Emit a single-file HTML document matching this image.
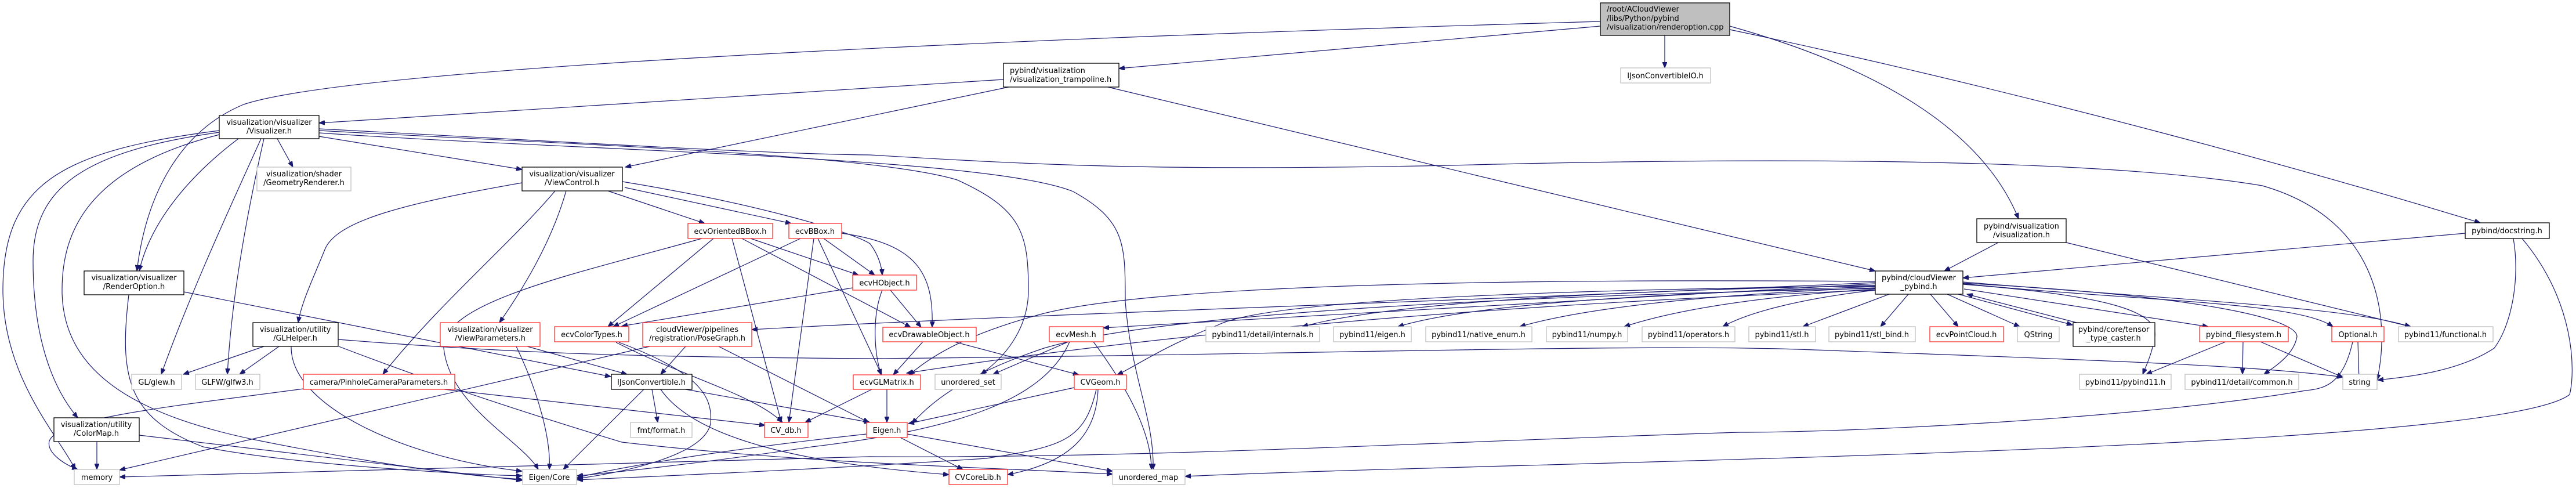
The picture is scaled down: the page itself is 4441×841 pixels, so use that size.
<!DOCTYPE html>
<html><head><meta charset="utf-8"><style>
html,body{margin:0;padding:0;background:#fff}
svg{display:block}
text{font-family:"DejaVu Sans","Liberation Sans",sans-serif;font-size:13px;fill:#000}
.e{fill:none;stroke:#191970;stroke-width:1.2;marker-end:url(#a)}
.g{fill:#fff;stroke:#bfbfbf;stroke-width:1.3}
.k{fill:#fff;stroke:#000;stroke-width:1.3}
.r{fill:#fff;stroke:#ff3030;stroke-width:1.3}
.f{fill:#bfbfbf;stroke:#000;stroke-width:1.3}
</style></head><body>
<svg width="4441" height="841" viewBox="0 0 4441 841" xmlns="http://www.w3.org/2000/svg">
<defs><marker id="a" markerWidth="11" markerHeight="8" refX="10" refY="4" orient="auto" markerUnits="userSpaceOnUse"><path d="M0,0 L10,4 L0,8 z" fill="#191970" stroke="#191970"/></marker></defs>

<!-- edges -->
<path class="e" d="M2982,45 C3250,120 3420,230 3480,377"/>
<path class="e" d="M2982,51 C3500,160 4000,300 4276,384"/>
<path class="e" d="M2870,61 L2870,117"/>
<path class="e" d="M2759,45 L1929,118"/>
<path class="e" d="M2759,37 C1600,70 600,120 420,180 C300,230 250,350 236,467"/>
<path class="e" d="M1730,137 L550,212"/>
<path class="e" d="M1739,150 L1078,288"/>
<path class="e" d="M1910,150 L3233,467"/>
<path class="e" d="M3445,418 L3352,467"/>
<path class="e" d="M3562,418 L4156,563"/>
<path class="e" d="M4250,402 L3384,479"/>
<path class="e" d="M4333,411 C4345,480 4330,560 4300,600 C4240,640 4150,650 4099,655"/>
<path class="e" d="M4348,411 C4440,520 4440,640 4430,680 C4300,780 2600,795 2043,821"/>

<path class="e" d="M550,222 C900,240 1300,265 1500,267 C1800,285 2000,295 2500,285 C3000,272 3600,270 3900,320 C4110,380 4120,560 4098,655"/>
<path class="e" d="M550,225 C1000,250 1500,265 1650,310 C1760,360 1773,400 1773,500 C1773,560 1740,610 1691,645"/>
<path class="e" d="M550,229 C1000,260 1700,270 1850,330 C1940,380 1940,420 1940,520 C1950,650 1990,720 1988,809"/>
<path class="e" d="M550,235 L900,292"/>
<path class="e" d="M478,239 L505,288"/>
<path class="e" d="M378,225 C100,260 5,320 5,500 C5,650 100,750 130,809"/>
<path class="e" d="M378,228 C150,260 57,320 57,450 C57,600 100,680 134,720"/>
<path class="e" d="M378,232 C150,290 107,400 107,500 C107,650 250,720 450,760 C650,800 800,820 900,826"/>
<path class="e" d="M411,239 C330,300 260,380 240,467"/>
<path class="e" d="M450,239 C400,350 330,500 278,645"/>
<path class="e" d="M455,239 C430,350 400,500 392,645"/>

<path class="e" d="M900,315 C700,350 580,380 560,430 C540,480 520,520 514,556"/>
<path class="e" d="M957,329 C880,420 760,520 660,645"/>
<path class="e" d="M976,329 C950,420 900,500 861,556"/>
<path class="e" d="M1048,329 L1215,385"/>
<path class="e" d="M1077,323 L1364,385"/>
<path class="e" d="M1073,313 C1300,350 1470,400 1500,420 C1515,440 1520,460 1521,474"/>

<path class="e" d="M1210,411 C1000,470 760,520 765,600 C775,700 900,760 928,809"/>
<path class="e" d="M1230,411 L1048,563"/>
<path class="e" d="M1262,411 L1347,728"/>
<path class="e" d="M1294,411 L1480,474"/>
<path class="e" d="M1279,411 L1570,564"/>
<path class="e" d="M1380,411 L1057,563"/>
<path class="e" d="M1403,411 L1360,728"/>
<path class="e" d="M1410,411 L1520,646"/>
<path class="e" d="M1420,411 L1508,474"/>
<path class="e" d="M1451,402 C1580,420 1610,470 1607,564"/>
<path class="e" d="M1521,500 C1505,540 1505,600 1519,646"/>
<path class="e" d="M1535,500 L1588,564"/>
<path class="e" d="M1470,496 L1072,562"/>
<path class="e" d="M1591,589 L1540,646"/>
<path class="e" d="M1645,589 L1860,646"/>
<path class="e" d="M1529,671 L1529,728"/>
<path class="e" d="M1503,671 L1388,728"/>
<path class="e" d="M1062,590 C1180,650 1300,680 1349,728"/>
<path class="e" d="M1067,590 C1200,640 1230,680 1225,730 C1215,780 1100,810 995,825"/>
<path class="e" d="M1120,597 L206,810"/>
<path class="e" d="M1182,597 L1139,645"/>
<path class="e" d="M1239,597 L1498,728"/>
<path class="e" d="M3233,487 C2500,520 1800,540 1296,568"/>
<path class="e" d="M1842,589 L1712,645"/>
<path class="e" d="M1844,589 C1800,690 1650,740 1400,770 C1200,800 1050,815 995,820"/>
<path class="e" d="M1885,589 C1960,690 1985,760 1985,809"/>
<path class="e" d="M1494,748 C1200,780 1050,810 995,823"/>
<path class="e" d="M1552,754 L1660,809"/>
<path class="e" d="M1564,748 L1918,812"/>
<path class="e" d="M1852,668 L1566,730"/>
<path class="e" d="M1893,671 C1890,760 1830,800 1737,818"/>
<path class="e" d="M1890,671 C1870,760 1830,770 1700,790 C1400,810 1100,822 995,827"/>
<path class="e" d="M3233,493 C2600,500 2180,520 2100,560 C2000,600 1960,630 1926,646"/>
<path class="e" d="M3233,485 C2600,480 2000,490 1800,540 C1650,580 1600,620 1567,646"/>
<path class="e" d="M3233,497 C2600,510 2000,540 1800,600 C1650,650 1600,700 1572,730"/>
<path class="e" d="M3233,500 C2700,520 2100,560 1563,643"/>
<path class="e" d="M3233,489 L1902,565"/>
<path class="e" d="M3233,492 C2800,500 2400,520 2245,563"/>
<path class="e" d="M3233,494 C2900,505 2550,520 2410,563"/>
<path class="e" d="M3233,496 C3000,505 2750,525 2620,563"/>
<path class="e" d="M3233,498 C3050,510 2900,530 2800,563"/>
<path class="e" d="M3233,500 C3100,515 3010,540 2970,563"/>
<path class="e" d="M3257,507 L3108,563"/>
<path class="e" d="M3290,507 L3242,563"/>
<path class="e" d="M3328,507 L3376,563"/>
<path class="e" d="M3357,507 L3482,563"/>
<path class="e" d="M3376,507 L3573,560"/>
<path class="e" d="M3580,556 L3391,507"/>
<path class="e" d="M3386,498 L3807,563"/>
<path class="e" d="M3384,489 C3700,520 3960,520 4022,563"/>
<path class="e" d="M3384,486 C3800,520 4050,530 4156,563"/>
<path class="e" d="M3384,490 C3650,510 3720,540 3715,580 C3710,610 3700,630 3694,645"/>
<path class="e" d="M3384,488 C3800,510 3960,550 3960,580 C3955,610 3925,630 3903,645"/>
<path class="e" d="M3837,589 L3700,645"/>
<path class="e" d="M3867,589 L3866,645"/>
<path class="e" d="M3897,589 L4039,650"/>
<path class="e" d="M4065,589 L4067,655"/>
<path class="e" d="M4056,589 C4040,660 4010,670 3975,673 C3700,720 3200,745 3000,745 C2500,760 2000,790 1500,787 C900,800 400,815 206,822"/>
<path class="e" d="M583,585 C900,610 1100,615 1500,618 C2200,612 2800,592 3100,602 C3600,620 3900,630 4039,650"/>
<path class="e" d="M455,597 L316,645"/>
<path class="e" d="M481,597 L413,645"/>
<path class="e" d="M502,597 C500,700 700,790 900,812"/>
<path class="e" d="M584,597 C800,680 1000,740 1072,762 C1400,800 1700,805 1918,817"/>
<path class="e" d="M317,503 L1053,649"/>
<path class="e" d="M222,508 C205,650 220,720 350,770 C500,800 800,818 900,820"/>
<path class="e" d="M909,597 L1081,645"/>
<path class="e" d="M890,597 C930,680 950,760 947,809"/>
<path class="e" d="M1110,671 L971,809"/>
<path class="e" d="M1124,671 L1134,728"/>
<path class="e" d="M1182,671 L1500,728"/>
<path class="e" d="M1139,671 C1200,760 1400,800 1636,818"/>
<path class="e" d="M523,670 C300,700 100,720 85,760 C80,780 110,800 134,809"/>
<path class="e" d="M766,671 L1319,733"/>
<path class="e" d="M167,761 L167,809"/>
<path class="e" d="M240,750 L900,828"/>

<!-- nodes -->
<rect class="f" x="2759" y="5" width="223" height="56"/>
<text x="2770" y="20">/root/ACloudViewer</text><text x="2770" y="36">/libs/Python/pybind</text><text x="2770" y="51">/visualization/renderoption.cpp</text>

<rect class="g" x="2794" y="117" width="155" height="26"/><text x="2871" y="135" text-anchor="middle">IJsonConvertibleIO.h</text>
<rect class="k" x="1730" y="109" width="199" height="41"/><text x="1741" y="126">pybind/visualization</text><text x="1741" y="141">/visualization_trampoline.h</text>
<rect class="k" x="3408" y="377" width="154" height="41"/><text x="3485" y="394" text-anchor="middle">pybind/visualization</text><text x="3485" y="409" text-anchor="middle">/visualization.h</text>
<rect class="k" x="4250" y="384" width="145" height="27"/><text x="4322" y="402" text-anchor="middle">pybind/docstring.h</text>
<rect class="k" x="378" y="199" width="172" height="40"/><text x="464" y="215" text-anchor="middle">visualization/visualizer</text><text x="464" y="230" text-anchor="middle">/Visualizer.h</text>
<rect class="g" x="443" y="288" width="162" height="41"/><text x="524" y="304" text-anchor="middle">visualization/shader</text><text x="524" y="319" text-anchor="middle">/GeometryRenderer.h</text>
<rect class="k" x="900" y="288" width="173" height="41"/><text x="986" y="304" text-anchor="middle">visualization/visualizer</text><text x="986" y="319" text-anchor="middle">/ViewControl.h</text>
<rect class="r" x="1186" y="385" width="146" height="26"/><text x="1259" y="403" text-anchor="middle">ecvOrientedBBox.h</text>
<rect class="r" x="1360" y="385" width="91" height="26"/><text x="1405" y="403" text-anchor="middle">ecvBBox.h</text>
<rect class="r" x="1470" y="474" width="110" height="26"/><text x="1525" y="492" text-anchor="middle">ecvHObject.h</text>
<rect class="k" x="145" y="467" width="172" height="41"/><text x="231" y="483" text-anchor="middle">visualization/visualizer</text><text x="231" y="498" text-anchor="middle">/RenderOption.h</text>
<rect class="k" x="3233" y="467" width="151" height="40"/><text x="3308" y="483" text-anchor="middle">pybind/cloudViewer</text><text x="3308" y="498" text-anchor="middle">_pybind.h</text>
<rect class="k" x="436" y="556" width="147" height="41"/><text x="509" y="572" text-anchor="middle">visualization/utility</text><text x="509" y="587" text-anchor="middle">/GLHelper.h</text>
<rect class="r" x="759" y="556" width="172" height="41"/><text x="845" y="572" text-anchor="middle">visualization/visualizer</text><text x="845" y="587" text-anchor="middle">/ViewParameters.h</text>
<rect class="r" x="956" y="563" width="128" height="26"/><text x="1020" y="581" text-anchor="middle">ecvColorTypes.h</text>
<rect class="r" x="1108" y="556" width="188" height="41"/><text x="1202" y="572" text-anchor="middle">cloudViewer/pipelines</text><text x="1202" y="587" text-anchor="middle">/registration/PoseGraph.h</text>
<rect class="r" x="1522" y="564" width="161" height="25"/><text x="1602" y="581" text-anchor="middle">ecvDrawableObject.h</text>
<rect class="r" x="1809" y="563" width="93" height="26"/><text x="1855" y="581" text-anchor="middle">ecvMesh.h</text>
<rect class="g" x="2079" y="563" width="196" height="26"/><text x="2177" y="581" text-anchor="middle">pybind11/detail/internals.h</text>
<rect class="g" x="2299" y="563" width="134" height="26"/><text x="2366" y="581" text-anchor="middle">pybind11/eigen.h</text>
<rect class="g" x="2458" y="563" width="183" height="26"/><text x="2549" y="581" text-anchor="middle">pybind11/native_enum.h</text>
<rect class="g" x="2666" y="563" width="140" height="26"/><text x="2736" y="581" text-anchor="middle">pybind11/numpy.h</text>
<rect class="g" x="2831" y="563" width="160" height="26"/><text x="2911" y="581" text-anchor="middle">pybind11/operators.h</text>
<rect class="g" x="3015" y="563" width="115" height="26"/><text x="3072" y="581" text-anchor="middle">pybind11/stl.h</text>
<rect class="g" x="3153" y="563" width="149" height="26"/><text x="3227" y="581" text-anchor="middle">pybind11/stl_bind.h</text>
<rect class="r" x="3327" y="563" width="127" height="26"/><text x="3390" y="581" text-anchor="middle">ecvPointCloud.h</text>
<rect class="g" x="3478" y="563" width="72" height="26"/><text x="3514" y="581" text-anchor="middle">QString</text>
<rect class="k" x="3574" y="556" width="141" height="41"/><text x="3644" y="572" text-anchor="middle">pybind/core/tensor</text><text x="3644" y="587" text-anchor="middle">_type_caster.h</text>
<rect class="r" x="3792" y="563" width="153" height="26"/><text x="3868" y="581" text-anchor="middle">pybind_filesystem.h</text>
<rect class="r" x="4020" y="563" width="90" height="26"/><text x="4065" y="581" text-anchor="middle">Optional.h</text>
<rect class="g" x="4135" y="563" width="163" height="26"/><text x="4216" y="581" text-anchor="middle">pybind11/functional.h</text>
<rect class="g" x="227" y="645" width="86" height="26"/><text x="270" y="663" text-anchor="middle">GL/glew.h</text>
<rect class="g" x="337" y="645" width="111" height="26"/><text x="392" y="663" text-anchor="middle">GLFW/glfw3.h</text>
<rect class="r" x="523" y="645" width="261" height="26"/><text x="653" y="663" text-anchor="middle">camera/PinholeCameraParameters.h</text>
<rect class="k" x="1054" y="645" width="139" height="26"/><text x="1123" y="663" text-anchor="middle">IJsonConvertible.h</text>
<rect class="r" x="1471" y="646" width="116" height="25"/><text x="1529" y="663" text-anchor="middle">ecvGLMatrix.h</text>
<rect class="g" x="1612" y="645" width="114" height="26"/><text x="1669" y="663" text-anchor="middle">unordered_set</text>
<rect class="r" x="1852" y="646" width="90" height="25"/><text x="1897" y="663" text-anchor="middle">CVGeom.h</text>
<rect class="g" x="3585" y="645" width="158" height="26"/><text x="3664" y="663" text-anchor="middle">pybind11/pybind11.h</text>
<rect class="g" x="3767" y="645" width="196" height="26"/><text x="3865" y="663" text-anchor="middle">pybind11/detail/common.h</text>
<rect class="g" x="4039" y="645" width="59" height="26"/><text x="4068" y="663" text-anchor="middle">string</text>
<rect class="k" x="93" y="720" width="147" height="41"/><text x="166" y="736" text-anchor="middle">visualization/utility</text><text x="166" y="751" text-anchor="middle">/ColorMap.h</text>
<rect class="g" x="1087" y="728" width="106" height="26"/><text x="1140" y="746" text-anchor="middle">fmt/format.h</text>
<rect class="r" x="1318" y="728" width="75" height="26"/><text x="1355" y="746" text-anchor="middle">CV_db.h</text>
<rect class="r" x="1494" y="728" width="70" height="26"/><text x="1529" y="746" text-anchor="middle">Eigen.h</text>
<rect class="g" x="128" y="809" width="78" height="26"/><text x="167" y="827" text-anchor="middle">memory</text>
<rect class="g" x="901" y="809" width="93" height="26"/><text x="947" y="827" text-anchor="middle">Eigen/Core</text>
<rect class="r" x="1636" y="809" width="101" height="26"/><text x="1686" y="827" text-anchor="middle">CVCoreLib.h</text>
<rect class="g" x="1918" y="809" width="125" height="26"/><text x="1980" y="827" text-anchor="middle">unordered_map</text>
</svg>
</body></html>
